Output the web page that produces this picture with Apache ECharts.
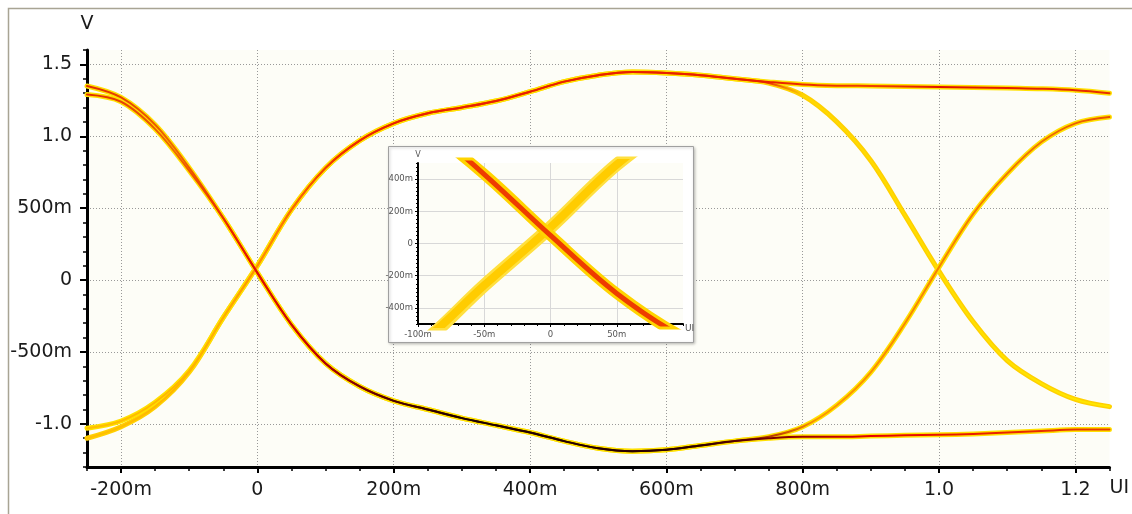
<!DOCTYPE html>
<html><head><meta charset="utf-8">
<script src="https://cdn.jsdelivr.net/npm/echarts@6/dist/echarts.min.js"></script>
<style>html,body{margin:0;padding:0;background:#fff}#c{width:1132px;height:514px}</style>
</head><body><div id="c"></div>
<script>
// ---- data (UI on x, volts on y) ----
const ui = [-0.25,-0.2,-0.15,-0.1,-0.05,0,0.05,0.1,0.15,0.2,0.25,0.3,0.35,0.4,0.45,0.5,0.55,0.6,0.65,0.7,0.75,0.8,0.85,0.9,0.95,1.0,1.05,1.1,1.15,1.2,1.25];
const fallToLow  = [1.35,1.27,1.08,0.78,0.43,0.05,-0.31,-0.58,-0.74,-0.84,-0.90,-0.96,-1.01,-1.06,-1.12,-1.17,-1.19,-1.18,-1.15,-1.12,-1.10,-1.09,-1.09,-1.085,-1.08,-1.076,-1.07,-1.06,-1.05,-1.04,-1.04];
const fallToRise = [1.29,1.24,1.05,0.76,0.43,0.05,-0.31,-0.58,-0.74,-0.84,-0.90,-0.96,-1.01,-1.06,-1.12,-1.17,-1.19,-1.18,-1.15,-1.12,-1.09,-1.02,-0.87,-0.64,-0.30,0.09,0.46,0.74,0.96,1.09,1.134];
const riseToHigh = [-1.03,-0.98,-0.85,-0.63,-0.26,0.10,0.49,0.78,0.97,1.09,1.16,1.20,1.245,1.31,1.38,1.425,1.447,1.44,1.425,1.40,1.378,1.36,1.352,1.35,1.347,1.343,1.34,1.335,1.33,1.32,1.30];
const riseToFall = [-1.10,-1.02,-0.88,-0.64,-0.26,0.10,0.49,0.78,0.97,1.09,1.16,1.20,1.245,1.31,1.38,1.425,1.447,1.44,1.425,1.40,1.37,1.285,1.10,0.83,0.45,0.06,-0.29,-0.56,-0.72,-0.83,-0.88];
const xTicks = [-0.2,0,0.2,0.4,0.6,0.8,1.0,1.2];
const yTicks = [-1.0,-0.5,0,0.5,1.0,1.5];
const insetXTicks = [-0.1,-0.05,0,0.05];
const insetYTicks = [-0.4,-0.2,0,0.2,0.4];

// ---- helpers ----
const pairs = arr => ui.map((u,i)=>[u,arr[i]]);
const u0 = ui[0], u1 = ui[ui.length-1];
const grad = list => ({type:'linear',x:0,y:0,x2:1,y2:0,
  colorStops: list.map(([u,c])=>({offset:(u-u0)/(u1-u0),color:c}))});
function fmt(v){
  if (Math.abs(v) < 1e-9) return '0';
  if (Math.abs(v) < 0.999) return Math.round(v*1000)+'m';
  return v.toFixed(1);
}
function line(data, xi, yi, color, width, z){
  return {type:'line', data, xAxisIndex:xi, yAxisIndex:yi, symbol:'none', showSymbol:false,
    smooth:0.35, clip:true, silent:true, z,
    lineStyle:{color, width, cap:'round', join:'round'}};
}

const lowCore = grad([[-0.25,'#e02800'],[-0.12,'#f06a00'],[-0.02,'#e81800'],[0.08,'#c80000'],[0.2,'#500000'],[0.3,'#200000'],[0.65,'#300000'],[0.78,'#900000'],[0.9,'#e80000'],[1.25,'#e84000']]);
const lowRiseCore = grad([[-0.25,'#e02800'],[-0.12,'#f06a00'],[-0.02,'#e81800'],[0.08,'#c80000'],[0.2,'#500000'],[0.3,'#200000'],[0.65,'#300000'],[0.76,'#c04000'],[0.82,'#ff9800'],[1.15,'#f07000'],[1.25,'#e85000']]);
const highCore = grad([[-0.25,'#ffc000'],[-0.05,'#ffb000'],[0.03,'#ff8000'],[0.12,'#f03000'],[0.2,'#e82000'],[0.75,'#e82000'],[0.9,'#f04000'],[1.0,'#e01000'],[1.25,'#e83000']]);
const highFallCore = grad([[-0.25,'#ffc000'],[-0.05,'#ffb000'],[0.03,'#ff8000'],[0.12,'#f03000'],[0.2,'#e82000'],[0.74,'#e82000'],[0.8,'#ffd800'],[1.25,'#ffe800']]);

const glow = '#ffe000';
const series = [
  // main glows
  line(pairs(riseToFall),0,0,'#ffd000',5,2),
  line(pairs(riseToHigh),0,0,glow,5,2),
  line(pairs(fallToRise),0,0,glow,5,2),
  line(pairs(fallToLow),0,0,glow,5,2),
  // main cores
  line(pairs(riseToFall),0,0,highFallCore,2,3),
  line(pairs(riseToHigh),0,0,highCore,2,3),
  line(pairs(fallToRise),0,0,lowRiseCore,2,3),
  line(pairs(fallToLow),0,0,lowCore,2,3),
  // inset
  line(pairs(riseToFall),2,2,'#ffe040',13,8),
  line(pairs(riseToHigh),2,2,'#ffcc00',8,8),
  line(pairs(fallToRise),2,2,'#ffd400',11,9),
  line(pairs(fallToLow),2,2,'#ee3c00',5,9)
];

const txt = {fontFamily:'DejaVu Sans', fontSize:19, color:'#1a1a1a'};
const small = {fontFamily:'DejaVu Sans', fontSize:8.5, color:'#555'};
const dotted = {show:true, lineStyle:{color:'#999', type:[1,2], width:1}};

const option = {
  animation:false,
  backgroundColor:'#ffffff',
  grid:[
    {left:87, top:50, width:1025, height:417, show:true, backgroundColor:'#fdfdf7', borderWidth:0, z:0},
    {left:418, top:163, width:265, height:161, show:true, backgroundColor:'#fdfdf7', borderWidth:0, z:6}
  ],
  xAxis:[
    {type:'value', gridIndex:0, min:-0.25, max:1.25, position:'bottom', z:1,
     name:'UI', nameLocation:'end', nameGap:0,
     nameTextStyle:{...txt, align:'left', verticalAlign:'top', padding:[12,0,0,0]},
     axisLine:{show:true, onZero:false, lineStyle:{color:'#000', width:3}},
     axisTick:{show:true, length:6, customValues:xTicks, lineStyle:{color:'#000', width:2}},
     axisLabel:{show:true, customValues:xTicks, formatter:fmt, margin:14, ...txt},
     splitLine:dotted},
    {type:'value', gridIndex:0, min:-0.25, max:1.25, interval:0.05, position:'bottom', z:1,
     axisLine:{show:false, onZero:false}, axisTick:{show:true, length:4, lineStyle:{color:'#000', width:1.5}},
     axisLabel:{show:false}, splitLine:{show:false}},
    {type:'value', gridIndex:1, min:-0.1, max:0.1, position:'bottom', z:7,
     name:'UI', nameLocation:'end', nameGap:2,
     nameTextStyle:{...small, fontSize:9, align:'left', verticalAlign:'top', padding:[0,0,0,0]},
     axisLine:{show:true, onZero:false, lineStyle:{color:'#000', width:2}},
     axisTick:{show:true, length:3, customValues:insetXTicks, lineStyle:{color:'#000'}},
     axisLabel:{show:true, customValues:insetXTicks, formatter:fmt, margin:6, ...small},
     splitLine:{show:true, lineStyle:{color:'#d8d8d8', width:1}}},
    {type:'value', gridIndex:1, min:-0.1, max:0.1, interval:0.01, position:'bottom', z:7,
     axisLine:{show:false, onZero:false}, axisTick:{show:true, length:2, lineStyle:{color:'#000'}},
     axisLabel:{show:false}, splitLine:{show:false}}
  ],
  yAxis:[
    {type:'value', gridIndex:0, min:-1.3, max:1.6, position:'left', z:1,
     name:'V', nameLocation:'end', nameGap:16, nameTextStyle:{...txt},
     axisLine:{show:true, onZero:false, lineStyle:{color:'#000', width:3}},
     axisTick:{show:true, length:7, customValues:yTicks, lineStyle:{color:'#000', width:2}},
     axisLabel:{show:true, customValues:yTicks, formatter:fmt, margin:15, ...txt},
     splitLine:dotted},
    {type:'value', gridIndex:0, min:-1.3, max:1.6, interval:0.1, position:'left', z:1,
     axisLine:{show:false, onZero:false}, axisTick:{show:true, length:4, lineStyle:{color:'#000', width:1.5}},
     axisLabel:{show:false}, splitLine:{show:false}},
    {type:'value', gridIndex:1, min:-0.5, max:0.5, position:'left', z:7,
     name:'V', nameLocation:'end', nameGap:4, nameTextStyle:{...small, fontSize:8},
     axisLine:{show:true, onZero:false, lineStyle:{color:'#000', width:2}},
     axisTick:{show:true, length:3, customValues:insetYTicks, lineStyle:{color:'#000'}},
     axisLabel:{show:true, customValues:insetYTicks, formatter:fmt, margin:5, ...small},
     splitLine:{show:true, lineStyle:{color:'#d8d8d8', width:1}}},
    {type:'value', gridIndex:1, min:-0.5, max:0.5, interval:0.025, position:'left', z:7,
     axisLine:{show:false, onZero:false}, axisTick:{show:true, length:2, lineStyle:{color:'#000'}},
     axisLabel:{show:false}, splitLine:{show:false}}
  ],
  graphic:{elements:[
    {type:'rect', z:-1, silent:true, shape:{x:8.5, y:8.5, width:1140, height:520},
     style:{fill:null, stroke:'#a8a494', lineWidth:1.5}},
    {type:'rect', z:5, silent:true, shape:{x:388.5, y:146.5, width:305, height:196},
     style:{fill:'#ffffff', stroke:'#a0a0a0', lineWidth:1, shadowBlur:3, shadowOffsetX:1, shadowOffsetY:1, shadowColor:'rgba(0,0,0,0.25)'}}
  ]},
  series
};
const chart = echarts.init(document.getElementById('c'), null, {renderer:'canvas'});
chart.setOption(option);
</script></body></html>
